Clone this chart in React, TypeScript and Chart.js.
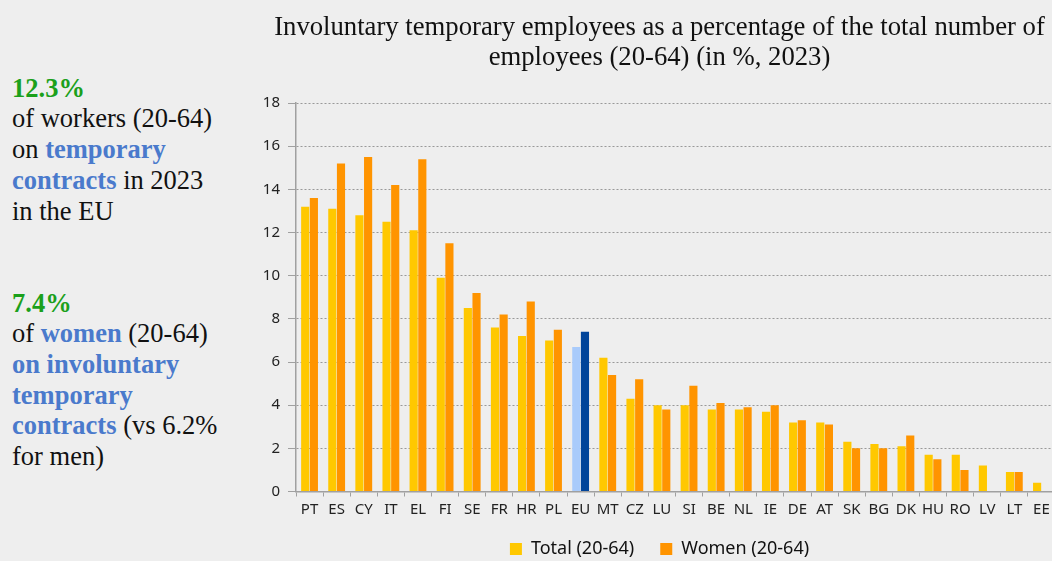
import React, { useEffect, useRef } from "react";
import { Chart, registerables } from "chart.js";

Chart.register(...registerables);

const categories = ["PT","ES","CY","IT","EL","FI","SE","FR","HR","PL","EU","MT","CZ","LU","SI","BE","NL","IE","DE","AT","SK","BG","DK","HU","RO","LV","LT","EE"];
const totalValues = [13.2,13.1,12.8,12.5,12.1,9.9,8.5,7.6,7.2,7.0,6.7,6.2,4.3,4.0,4.0,3.8,3.8,3.7,3.2,3.2,2.3,2.2,2.1,1.7,1.7,1.2,0.9,0.4];
const womenValues = [13.6,15.2,15.5,14.2,15.4,11.5,9.2,8.2,8.8,7.5,7.4,5.4,5.2,3.8,4.9,4.1,3.9,4.0,3.3,3.1,2.0,2.0,2.6,1.5,1.0,null,0.9,null];
const titleLines = ["Involuntary temporary employees as a percentage of the total number of", "employees (20-64) (in %, 2023)"];
const seriesNames = ["Total (20-64)", "Women (20-64)"];
const highlight = "EU";

const SERIF = "'Liberation Serif', 'Times New Roman', serif";
const SANS = "'Noto Sans', sans-serif";
const GREEN = "#1ba01b";
const BLUE = "#4a7acc";

export default function App() {
  const ref = useRef<HTMLCanvasElement | null>(null);
  useEffect(() => {
    if (!ref.current) return;
    const hi = categories.indexOf(highlight);
    const chart = new Chart(ref.current, {
      type: "bar",
      data: {
        labels: categories,
        datasets: [
          {
            label: seriesNames[0],
            data: totalValues,
            backgroundColor: (c: any) => (c.dataIndex === hi ? "#a9cbfb" : "#ffc800"),
            borderWidth: 0,
            categoryPercentage: 0.64,
            barPercentage: 0.94,
          },
          {
            label: seriesNames[1],
            data: womenValues,
            backgroundColor: (c: any) => (c.dataIndex === hi ? "#00449a" : "#ff9400"),
            borderWidth: 0,
            categoryPercentage: 0.64,
            barPercentage: 0.94,
          },
        ],
      },
      options: {
        responsive: false,
        animation: false,
        layout: { padding: { left: 0, right: 5, top: 0, bottom: 0 } },
        plugins: {
          title: {
            display: true,
            text: titleLines,
            color: "#111",
            font: { family: SERIF, size: 26.7, weight: "normal", lineHeight: 1.13 },
            padding: { top: 13, bottom: 29.7 },
          },
          legend: {
            position: "bottom",
            labels: {
              boxWidth: 12,
              boxHeight: 12,
              padding: 26,
              color: "#111",
              font: { family: SANS, size: 18 },
            },
          },
          tooltip: { enabled: false },
        },
        scales: {
          x: {
            afterFit: (s: any) => { s.height = 22.5; },
            grid: { drawOnChartArea: false, drawTicks: true, tickLength: 5, color: "#a0a0a0", offset: true },
            border: { color: "#a0a0a0", width: 1.5 },
            ticks: { color: "#222", font: { family: SANS, size: 15 }, maxRotation: 0, autoSkip: false, padding: 4 },
          },
          y: {
            min: 0,
            max: 18,
            afterFit: (s: any) => { s.width = 32; },
            ticks: { stepSize: 2, color: "#222", font: { family: SANS, size: 15 }, padding: 8 },
            grid: { color: "#999", lineWidth: 1, tickLength: 8, tickColor: "#a0a0a0" },
            border: { color: "#a0a0a0", width: 1.5, dash: [2, 2] },
          },
        },
      },
    });
    return () => chart.destroy();
  }, []);

  const line = (top: number, content: React.ReactNode) => (
    <div style={{ position: "absolute", left: 12, top, whiteSpace: "nowrap", lineHeight: "30.7px", height: 30.7 }}>{content}</div>
  );
  const b = (t: string, color: string) => <span style={{ fontWeight: "bold", color }}>{t}</span>;
  const L0 = 72.7;
  const LH = 30.7;

  return (
    <div style={{ position: "fixed", left: 0, top: 0, width: 1052, height: 561, overflow: "hidden", background: "#eeeeee" }}>
      <div style={{ position: "absolute", left: 0, top: 0, fontFamily: SERIF, fontSize: 26.5, color: "#111" }}>
        {line(L0, b("12.3%", GREEN))}
        {line(L0 + LH, "of workers (20-64)")}
        {line(L0 + LH * 2, <>on {b("temporary", BLUE)}</>)}
        {line(L0 + LH * 3, <>{b("contracts", BLUE)} in 2023</>)}
        {line(L0 + LH * 4, "in the EU")}
        {line(L0 + LH * 7, b("7.4%", GREEN))}
        {line(L0 + LH * 8, <>of {b("women", BLUE)} (20-64)</>)}
        {line(L0 + LH * 9, b("on involuntary", BLUE))}
        {line(L0 + LH * 10, b("temporary", BLUE))}
        {line(L0 + LH * 11, <>{b("contracts", BLUE)} (vs 6.2%</>)}
        {line(L0 + LH * 12, "for men)")}
      </div>
      <canvas ref={ref} width={796} height={568} style={{ position: "absolute", left: 264, top: 0 }} />
    </div>
  );
}
